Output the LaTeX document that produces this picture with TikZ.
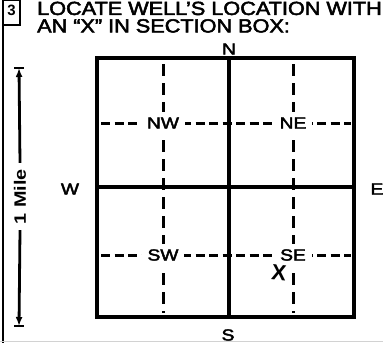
\documentclass[tikz,border=0pt]{standalone}
\usepackage{fontspec}
\setmainfont{Liberation Sans}
\newfontfamily\formfont{Liberation Sans}[FakeBold=2.5]
\usetikzlibrary{arrows.meta}
\newcommand{\widetext}[2][1.14]{\scalebox{#1}[1]{#2}}
\begin{document}
\begin{tikzpicture}[x=1pt,y=-1pt,
    heavy/.style={line width=3.8pt},
    quarter/.style={line width=3pt},
    qlabel/.style={fill=white,inner xsep=6pt,inner ysep=5pt,font=\formfont\fontsize{16}{16}\selectfont},
    compass/.style={inner sep=0pt,font=\formfont\fontsize{16}{16}\selectfont},
    title/.style={inner sep=0pt,anchor=north west,align=left,font=\formfont\fontsize{19}{17.5}\selectfont}]
  \useasboundingbox (0,0) rectangle (383,343);
  % form edges
  \draw[line width=1.8pt] (3,0) -- (3,343);
  \draw[gray!35,line width=1pt] (0,341.5) -- (383,341.5);
  \draw[line width=1.6pt] (3,0) rectangle (20,25);
  \node[inner sep=0pt,font=\fontsize{15}{15}\selectfont\bfseries] (item) at (11.5,10) {3};
  \node[title] (heading) at (37,1.5) {\widetext{LOCATE WELL’S LOCATION WITH}\\\widetext{AN “X” IN SECTION BOX:}};
  % section
  \coordinate (tl) at (97,58);
  \coordinate (br) at (354,317);
  \coordinate (mn) at (229,58);
  \coordinate (ms) at (229,317);
  \coordinate (mw) at (97,187);
  \coordinate (me) at (354,187);
  \begin{scope}[quarter,dash pattern=on 12pt off 7pt]
    \draw (163,64) -- (163,313);
    \draw (293,64) -- (293,313);
  \end{scope}
  \begin{scope}[quarter,dash pattern=on 9pt off 4.5pt]
    \draw (101,123) -- (351,123);
    \draw (101,255) -- (351,255);
  \end{scope}
  \node[qlabel] (nw) at (163,123) {\widetext[1.2]{NW}};
  \node[qlabel] (ne) at (293,123) {\widetext[1.2]{NE}};
  \node[qlabel] (sw) at (163,255) {\widetext[1.2]{SW}};
  \node[qlabel] (se) at (293,255) {\widetext[1.2]{SE}};
  \draw[heavy] (tl) rectangle (br);
  \draw[heavy] (mn) -- (ms);
  \draw[heavy] (mw) -- (me);
  \node[compass] (n) at (229,49) {\widetext[1.2]{N}};
  \node[compass] (s) at (228,335) {\widetext[1.2]{S}};
  \node[compass] (w) at (70,189) {\widetext[1.2]{W}};
  \node[compass] (e) at (377,189) {\widetext[1.2]{E}};
  \node[inner sep=0pt,rotate=-6,font=\fontsize{22}{22}\selectfont\bfseries] (well) at (279,273) {X};
  % one mile
  \coordinate (mtop) at (19,68);
  \coordinate (mbot) at (19,326);
  \node[rotate=90,inner sep=6pt,font=\fontsize{16.5}{16.5}\selectfont\bfseries] (mile) at (20,196.5) {\widetext[1.2]{1 Mile}};
  \draw[line width=2.8pt,-{Latex[length=9pt,width=7pt]}] (mile.east) -- (mtop);
  \draw[line width=2.8pt,-{Latex[length=9pt,width=7pt]}] (mile.west) -- (mbot);
  \draw[line width=2.8pt] (14,68) -- (24,68);
  \draw[line width=2.8pt] (14,326) -- (24,326);
\end{tikzpicture}
\end{document}
